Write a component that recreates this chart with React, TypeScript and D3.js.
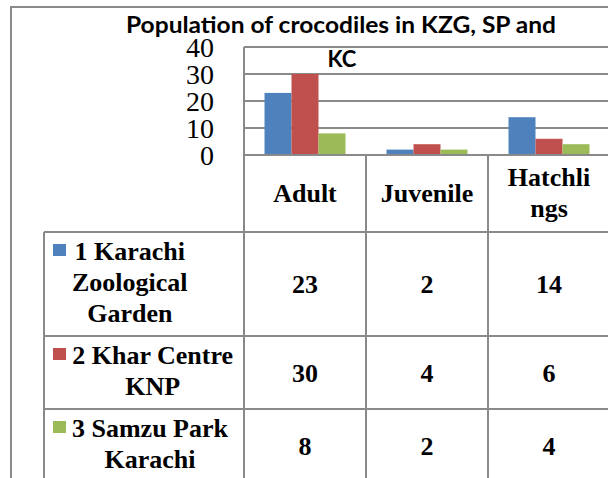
import React from 'react'
import * as d3 from 'd3'

// chart data
const categories = ['Adult', 'Juvenile', 'Hatchlings']
const categoryLines = [['Adult'], ['Juvenile'], ['Hatchli', 'ngs']]
const seriesNames = ['1 Karachi Zoological Garden', '2 Khar Centre KNP', '3 Samzu Park Karachi']
const seriesLines = [['1 Karachi', 'Zoological', 'Garden'], ['2 Khar Centre', 'KNP'], ['3 Samzu Park', 'Karachi']]
const kzgValues = [23, 2, 14]
const kharValues = [30, 4, 6]
const samzuValues = [8, 2, 4]
const yTicks = [0, 10, 20, 30, 40]

const seriesValues = [kzgValues, kharValues, samzuValues]
const colors = ['#4F81BD', '#C0504D', '#9BBB59']

const W = 608
const H = 478
const plotLeft = 244
const plotTop = 47
const plotBottom = 155
const headerBottom = 232
const legendLeft = 44
const lineGap = 31
const gridColor = '#8a8a8a'
const serif = 'Liberation Serif, DejaVu Serif, serif'

let ctx: CanvasRenderingContext2D | null = null
const measure = (s: string) => {
  if (!ctx) ctx = document.createElement('canvas').getContext('2d')
  if (!ctx) return s.length * 13
  ctx.font = 'bold 26px "Liberation Serif"'
  return ctx.measureText(s).width
}

const serifStyle = { fontFamily: serif }

const App = () => {
  const x = d3.scaleBand<string>().domain(categories).range([plotLeft, plotLeft + 122 * categories.length])
  const xs = d3.scaleBand<string>().domain(seriesNames).range([0, x.bandwidth()]).paddingOuter(0.76)
  const y = d3.scaleLinear().domain([0, 40]).range([plotBottom, plotTop])

  // row layout of the data table
  const rowTops: number[] = []
  let top = headerBottom
  seriesLines.forEach((lines) => {
    rowTops.push(top)
    top += 42 + lineGap * (lines.length - 1)
  })

  const baselines = (cy: number, n: number, off: number) =>
    d3.range(n).map((i) => cy + off + (i - (n - 1) / 2) * lineGap)

  return (
    <svg width={W} height={H} style={{ position: 'absolute', left: 0, top: 0 }}>
      <rect x={0} y={0} width={W} height={H} fill="#fff" />
      <rect x={11} y={7} width={W + 20} height={H + 20} fill="#fff" stroke={gridColor} strokeWidth={2} />

      <text x={341} y={33} textAnchor="middle" style={{ fontFamily: 'Lato, sans-serif' }} fontWeight="bold" fontSize={22}
        textLength={430} lengthAdjust="spacingAndGlyphs">Population of crocodiles in KZG, SP and</text>

      {/* gridlines */}
      {yTicks.filter((t) => t > 0).map((t) => (
        <line key={t} x1={plotLeft} x2={W} y1={y(t)} y2={y(t)} stroke={gridColor} strokeWidth={2} />
      ))}
      {yTicks.map((t) => (
        <text key={'l' + t} x={214} y={y(t) + 10} textAnchor="end" style={serifStyle} fontSize={28}>{t}</text>
      ))}

      {/* bars */}
      {seriesValues.map((vals, si) =>
        vals.map((v, ci) => (
          <rect key={si + '-' + ci} x={x(categories[ci])! + xs(seriesNames[si])!} y={y(v)}
            width={xs.bandwidth()} height={y(0) - y(v)} fill={colors[si]} />
        ))
      )}

      <text x={342} y={67} textAnchor="middle" style={{ fontFamily: 'Lato, sans-serif' }} fontWeight="bold" fontSize={22}>KC</text>

      {/* table lines */}
      <line x1={plotLeft} x2={W} y1={plotBottom} y2={plotBottom} stroke={gridColor} strokeWidth={2} />
      <line x1={plotLeft} x2={W} y1={plotTop} y2={plotTop} stroke={gridColor} strokeWidth={2} />
      {rowTops.map((t) => (
        <line key={'h' + t} x1={legendLeft} x2={W} y1={t} y2={t} stroke={gridColor} strokeWidth={2} />
      ))}
      <line x1={legendLeft} x2={legendLeft} y1={headerBottom} y2={H} stroke={gridColor} strokeWidth={2} />
      <line x1={plotLeft} x2={plotLeft} y1={plotTop} y2={H} stroke={gridColor} strokeWidth={2} />
      {categories.map((c) => (
        <line key={'v' + c} x1={x(c)! + x.bandwidth()} x2={x(c)! + x.bandwidth()} y1={plotBottom} y2={H}
          stroke={gridColor} strokeWidth={2} />
      ))}

      {/* header cells */}
      {categories.map((c, ci) =>
        baselines((plotBottom + headerBottom) / 2, categoryLines[ci].length, 8).map((by, li) => (
          <text key={c + li} x={x(c)! + x.bandwidth() / 2} y={by} textAnchor="middle" style={serifStyle}
            fontWeight="bold" fontSize={26}>{categoryLines[ci][li]}</text>
        ))
      )}

      {/* legend rows + values */}
      {seriesLines.map((lines, si) => {
        const rTop = rowTops[si]
        const rBottom = rTop + 42 + lineGap * (lines.length - 1)
        const cy = (rTop + rBottom) / 2
        const bl = baselines(cy, lines.length, 7)
        const blockW = d3.max(lines, measure) || 0
        const cx = 72 + blockW / 2
        return (
          <g key={seriesNames[si]}>
            <rect x={53} y={bl[0] - 16} width={13} height={12} fill={colors[si]} />
            {lines.map((l, li) => (
              <text key={li} x={cx} y={bl[li]} textAnchor="middle" style={serifStyle} fontWeight="bold"
                fontSize={26}>{l}</text>
            ))}
            {seriesValues[si].map((v, ci) => (
              <text key={'v' + ci} x={x(categories[ci])! + x.bandwidth() / 2} y={cy + 9} textAnchor="middle"
                style={serifStyle} fontWeight="bold" fontSize={26}>{v}</text>
            ))}
          </g>
        )
      })}
    </svg>
  )
}

export default App
